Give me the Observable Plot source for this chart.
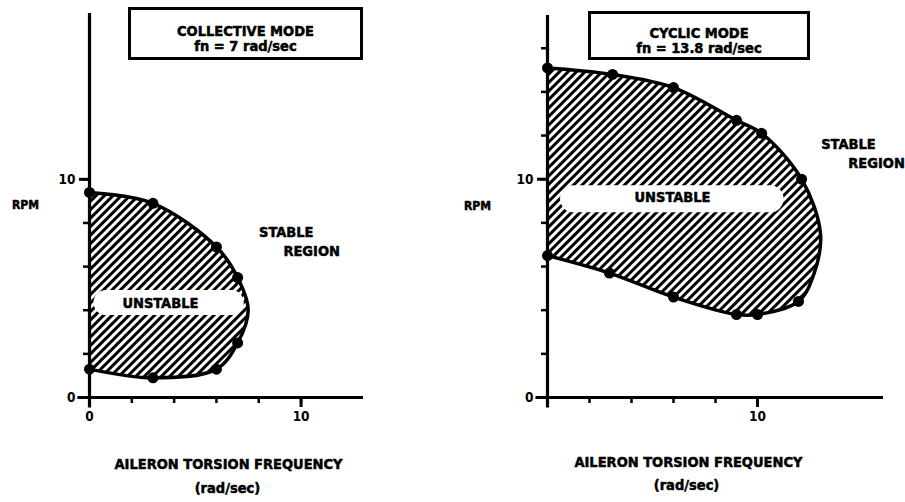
<!DOCTYPE html>
<html>
<head>
<meta charset="utf-8">
<script src="https://cdn.jsdelivr.net/npm/d3@7"></script>
<script src="https://cdn.jsdelivr.net/npm/@observablehq/plot@0.6"></script>
<style>
  html, body { margin: 0; padding: 0; background: #fff; }
  #wrap { position: relative; width: 905px; height: 502px; overflow: hidden; background: #fff;
          font-family: "Liberation Sans Narrow", "DejaVu Sans Condensed", "Liberation Sans", sans-serif; font-weight: bold; color: #000; }
  .panel { position: absolute; top: 0; }
  .tbox { position: absolute; border: 3px solid #000; box-sizing: border-box; text-align: center;
          font-size: 14.5px; line-height: 15px; background: #fff; -webkit-text-stroke: 0.5px #000; }
</style>
</head>
<body>
<div id="wrap">
  <div id="left" class="panel" style="left:0"></div>
  <div id="right" class="panel" style="left:450px"></div>
  <div class="tbox" style="left:128px; top:7px; width:235px; height:53px; padding-top:14px;">COLLECTIVE MODE<br>fn = 7 rad/sec</div>
  <div class="tbox" style="left:588px; top:11px; width:222px; height:49px; padding-top:12px;">CYCLIC MODE<br>fn = 13.8 rad/sec</div>
</div>
<script>
// ---- Data: collective mode (left) stability boundary ----
const collectiveFreq = [0, 3, 6, 7, 7.5, 7, 6, 3, 0];
const collectiveRpm  = [9.4, 8.9, 6.9, 5.5, 4.0, 2.5, 1.3, 0.9, 1.3];
const collectiveMarked = [true, true, true, true, false, true, true, true, true];

// ---- Data: cyclic mode (right) stability boundary ----
const cyclicFreq = [0, 3.1, 6, 9, 10.2, 12.1, 13.0, 12.7, 11.95, 10, 9, 6, 2.95, 0];
const cyclicRpm  = [15.1, 14.8, 14.2, 12.7, 12.1, 10.0, 7.5, 5.7, 4.4, 3.8, 3.8, 4.6, 5.7, 6.5];
const cyclicMarked = [true, true, true, true, true, true, false, false, true, true, true, true, true, true];

// ---- Ticks ----
const leftXTicks = [0, 2, 4, 6, 8, 10];
const leftXLabels = [0, 10];
const leftYTicks = [2, 4, 6, 8, 10];
const leftYLabels = [0, 10];
const rightXTicks = [2, 4, 6, 8, 10];
const rightXLabels = [10];
const rightYTicks = [2, 4, 6, 8, 10, 12, 14, 16];
const rightYLabels = [0, 10];

// ---- Annotations (data units) ----
const leftNoteText = ["STABLE", "REGION", "UNSTABLE", "AILERON TORSION FREQUENCY", "(rad/sec)"];
const leftNoteX = [9.3, 10.5, 3.35, 6.57, 6.52];
const leftNoteY = [7.57, 6.7, 4.3, -3.07, -4.17];
const leftBandX = [0.78, 6.7];
const leftBandY = [4.35, 4.35];

const rightNoteText = ["STABLE", "REGION", "UNSTABLE", "AILERON TORSION FREQUENCY", "(rad/sec)"];
const rightNoteX = [14.33, 15.67, 5.95, 6.71, 6.62];
const rightNoteY = [11.6, 10.73, 9.15, -2.98, -4.03];
const rightBandX = [1.24, 10.6];
const rightBandY = [9.1, 9.1];

const FONT = '"Liberation Sans Narrow", "DejaVu Sans Condensed", "Liberation Sans", sans-serif';

function panel({freq, rpm, marked, xMax, yMax, xTicks, xLabels, yTicks, yLabels,
                noteText, noteX, noteY, bandX, bandY, bandW, width, mLeft, mRight, mTop, patId, rpmDx}) {
  const boundary = freq.map((f, i) => ({f, r: rpm[i], m: marked[i]}));
  const notes = noteText.map((t, i) => ({t, x: noteX[i], y: noteY[i]}));
  const band = bandX.map((x, i) => ({x, y: bandY[i]}));
  const svg = Plot.plot({
    width, height: 502,
    marginLeft: mLeft, marginRight: mRight, marginTop: mTop, marginBottom: 105,
    style: {overflow: "visible", fontFamily: FONT, fontWeight: "bold", background: "transparent"},
    x: {domain: [0, xMax], axis: null},
    y: {domain: [0, yMax], axis: null},
    marks: [
      Plot.line(boundary, {x: "f", y: "r", curve: "catmull-rom", fill: `url(#${patId})`, stroke: "#000", strokeWidth: 3.5}),
      Plot.line(band, {x: "x", y: "y", stroke: "#fff", strokeWidth: bandW, strokeLinecap: "round"}),
      Plot.ruleY([0], {x1: -0.55, x2: xMax, stroke: "#000", strokeWidth: 3.2}),
      Plot.ruleX([0], {y1: -0.48, y2: yMax, stroke: "#000", strokeWidth: 3.2}),
      Plot.axisX({ticks: xTicks, tickSize: 6, tickFormat: () => "", strokeWidth: 2.5}),
      Plot.axisX({ticks: xLabels, tickSize: 10, tickPadding: 4, strokeWidth: 3, fontSize: 13.5, fontWeight: "bold", stroke: "#000", strokeWidth: 3}),
      Plot.axisY({ticks: yTicks, tickSize: 6, tickFormat: () => "", strokeWidth: 2.5}),
      Plot.axisY({ticks: yLabels, tickSize: 10, tickPadding: 4, strokeWidth: 3, fontSize: 13.5, fontWeight: "bold"}),
      Plot.dot(boundary.filter(d => d.m), {x: "f", y: "r", r: 5.5, fill: "#000"}),
      Plot.text(notes, {x: "x", y: "y", text: "t", fontSize: 14.5, fontWeight: "bold", fill: "#000", stroke: "#000", strokeWidth: 0.5}),
      Plot.text(["RPM"], {frameAnchor: "left", dx: rpmDx, fontSize: 12, fontWeight: "bold", textAnchor: "middle", fill: "#000", stroke: "#000", strokeWidth: 0.5})
    ]
  });
  const defs = d3.select(svg).insert("defs", ":first-child");
  const pat = defs.append("pattern").attr("id", patId).attr("patternUnits", "userSpaceOnUse")
    .attr("width", 6).attr("height", 6).attr("patternTransform", "rotate(45)");
  pat.append("rect").attr("width", 6).attr("height", 6).attr("fill", "#fff");
  pat.append("rect").attr("x", 0).attr("y", 0).attr("width", 3).attr("height", 6).attr("fill", "#000");
  return svg;
}

document.getElementById("left").append(panel({
  freq: collectiveFreq, rpm: collectiveRpm, marked: collectiveMarked,
  xMax: 12.95, yMax: 17.6, xTicks: leftXTicks, xLabels: leftXLabels, yTicks: leftYTicks, yLabels: leftYLabels,
  noteText: leftNoteText, noteX: leftNoteX, noteY: leftNoteY, bandX: leftBandX, bandY: leftBandY, bandW: 25,
  width: 450, mLeft: 89, mRight: 87, mTop: 13, patId: "hatchL", rpmDx: -64
}));
document.getElementById("right").append(panel({
  freq: cyclicFreq, rpm: cyclicRpm, marked: cyclicMarked,
  xMax: 16, yMax: 17.5, xTicks: rightXTicks, xLabels: rightXLabels, yTicks: rightYTicks, yLabels: rightYLabels,
  noteText: rightNoteText, noteX: rightNoteX, noteY: rightNoteY, bandX: rightBandX, bandY: rightBandY, bandW: 27,
  width: 455, mLeft: 97, mRight: 22, mTop: 15, patId: "hatchR", rpmDx: -70
}));
</script>
</body>
</html>
